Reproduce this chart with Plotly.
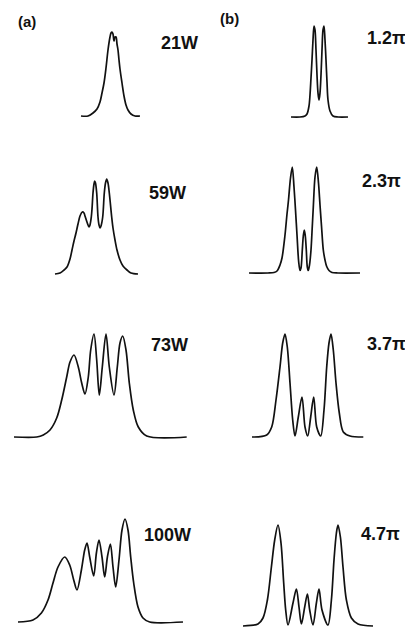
import plotly.graph_objects as go

W, H = 405, 629

# ---- data: relative frequency (a.u.) and spectral intensity (a.u.) ----
# column (a): pump power series
a1_x = [0, 7, 12, 16, 19, 21, 23, 25, 27, 29, 30, 31, 32, 33, 34, 35, 36, 37, 38, 39, 41, 43, 45, 47, 50, 54, 59]
a1_y = [0, 0, 3, 7, 14, 23, 33, 48, 66, 79, 83, 84, 82, 75, 79, 79, 72, 66, 56, 47, 33, 20, 11, 6, 2, 0, 0]

a2_x = [0, 5, 9, 12, 15, 17, 19, 21, 23, 25, 27.3, 29, 30, 32.3, 34, 35, 36.3, 37, 38, 39, 39.7, 40.5, 41.7, 43, 44,
        45, 46, 47.7, 49.3, 50.5, 51.7, 53, 54.3, 56.7, 58, 60, 62, 65, 68, 72, 76, 83]
a2_y = [0, 1, 4, 7, 15, 24, 33, 41, 50, 58, 62, 61, 58, 51, 47, 49, 57, 65, 81, 90, 93, 91, 81, 57, 49,
        46, 48, 57, 81, 91, 95, 91, 81, 57, 46, 34, 24, 14, 8, 4, 1, 0]

a3_x = [0, 22.7, 29.3, 36, 42.7, 47.7, 52.7, 56, 60, 64.3, 67.7, 71, 74.3, 76.7, 80, 82.7, 85.3, 88.3, 92, 95.3,
        100, 103.3, 106, 108.7, 112, 115.3, 119.3, 124.3, 132.7, 172.7]
a3_y = [0, 0, 2, 7, 19, 37, 60, 75, 82, 70, 54, 43, 60, 87, 103, 77, 42, 70, 103, 70,
        42, 70, 94, 101, 87, 54, 27, 10, 1, 0]

a4_x = [0, 15, 23.4, 30, 35, 40, 46.7, 51.7, 55.7, 59, 63.4, 66.7, 69, 71.7, 75.7, 78.4, 81, 84, 86.7, 89.4,
        92.4, 95, 97.7, 101, 104, 107, 110, 112.7, 115.7, 120, 125, 131.7, 165]
a4_y = [0, 2, 9, 22, 39, 55, 65, 57, 42, 32, 52, 72, 79, 65, 46, 69, 82, 65, 45, 65,
        78, 55, 35, 62, 92, 103, 92, 65, 39, 15, 4, 0, 0]

# column (b): nonlinear phase series
b1_x = [0, 9, 14, 16, 18, 19, 20, 21, 22, 23, 24, 25, 26, 27, 28, 29, 30, 31, 32, 33, 34, 35, 36, 37, 39, 42, 47, 57]
b1_y = [0, 0, 1, 3, 11, 22, 39, 57, 77, 91, 87, 67, 42, 24, 17, 24, 42, 67, 87, 91, 77, 57, 35, 17, 6, 1, 0, 0]

b2_x = [0, 19, 25, 28, 31, 33, 36, 38, 39.5, 41.5, 43.3, 45, 46.5, 48, 49.7, 51, 52, 53.3, 54.3, 55.3, 56.3,
        57.3, 58.3, 59.3, 60.5, 62, 63, 64.3, 66, 67.7, 69.5, 71, 72.5, 74.3, 76, 77.7, 80, 83, 89, 111]
b2_y = [0, 0, 0.5, 2, 8, 15, 38, 59, 73, 95, 106, 86, 63, 38, 11, 2.5, 5, 23, 37, 43, 37,
        23, 6, 2.5, 8, 23, 41, 66, 96, 106, 90, 68, 47, 23, 13, 6.5, 2.5, 0.5, 0, 0]

b3_x = [0, 14.7, 19.7, 24, 28, 30.7, 33, 35.3, 38, 40.7, 43, 46.3, 50, 53, 55.7, 58.7, 61.7, 64.7, 68.7, 72,
        74.7, 77, 79, 81.3, 84, 87.3, 91.3, 98, 111.3]
b3_y = [0, 2, 10, 37, 70, 94, 103, 90, 54, 17, 1, 20, 40, 10, 1, 20, 40, 10, 1, 27,
        70, 94, 103, 87, 54, 24, 5, 1, 0]

b4_x = [0, 15, 20, 24.4, 28.4, 31.7, 35, 38, 40.7, 42.7, 45, 50, 53.4, 56, 58.4, 61.7, 64.4, 66.7, 70, 73.4,
        76, 79, 85, 88.4, 91, 93.4, 95, 97.4, 100, 103.4, 108.4, 115, 130]
b4_y = [0, 2, 8, 26, 59, 86, 101, 83, 43, 16, 1, 23, 37, 19, 2, 19, 32, 16, 1, 23,
        37, 16, 1, 26, 66, 93, 101, 89, 59, 26, 8, 2, 0]

labels_a = ["21W", "59W", "73W", "100W"]
labels_b = ["1.2π", "2.3π", "3.7π", "4.7π"]
panel_tags = ["(a)", "(b)"]

# ---- layout (pixel boxes of each small panel: left edge, baseline) ----
boxes = [
    (a1_x, a1_y, 81, 116), (a2_x, a2_y, 55, 274), (a3_x, a3_y, 14, 437), (a4_x, a4_y, 18, 622),
    (b1_x, b1_y, 291, 117), (b2_x, b2_y, 249, 273), (b3_x, b3_y, 252, 437), (b4_x, b4_y, 243, 626),
]

fig = go.Figure()
PADX, PADY, SPAN = 3, 3, 110
for i, (xs, ys, left, base) in enumerate(boxes):
    n = i + 1
    sfx = "" if n == 1 else str(n)
    width = max(xs)
    fig.add_trace(go.Scatter(
        x=xs, y=ys, mode="lines",
        line=dict(color="#111111", width=1.7, shape="spline", smoothing=0.9),
        xaxis="x" + sfx, yaxis="y" + sfx, showlegend=False, hoverinfo="skip"))
    fig.layout["xaxis" + sfx] = dict(
        domain=[(left - PADX) / W, (left + width + PADX) / W],
        range=[-PADX, width + PADX], visible=False, fixedrange=True)
    fig.layout["yaxis" + sfx] = dict(
        domain=[1 - (base + PADY) / H, 1 - (base - SPAN + PADY) / H],
        range=[-PADY, SPAN - PADY], visible=False, fixedrange=True)

font_lbl = dict(family="Liberation Sans, Arial, sans-serif", size=18, color="#111111")
ann = []
pos_a = [(159, 43), (147, 192.5), (149, 344.5), (142, 534.5)]
pos_b = [(365, 38.5), (360, 181), (365, 344), (359, 534)]
for t, (x, y) in zip(labels_a, pos_a):
    ann.append(dict(text="<b>%s</b>" % t, x=x / W, y=1 - y / H, xref="paper", yref="paper",
                    xanchor="left", yanchor="middle", showarrow=False, font=font_lbl))
for t, (x, y) in zip(labels_b, pos_b):
    ann.append(dict(text="<b>%s</b>" % t, x=x / W, y=1 - y / H, xref="paper", yref="paper",
                    xanchor="left", yanchor="middle", showarrow=False, font=font_lbl))
for t, (x, y) in zip(panel_tags, [(16, 21.5), (218, 19)]):
    ann.append(dict(text="<b>%s</b>" % t, x=x / W, y=1 - y / H, xref="paper", yref="paper",
                    xanchor="left", yanchor="middle", showarrow=False,
                    font=dict(family="Liberation Sans, Arial, sans-serif", size=15, color="#111111")))

fig.update_layout(width=W, height=H, margin=dict(l=0, r=0, t=0, b=0),
                  paper_bgcolor="white", plot_bgcolor="white", annotations=ann)

fig.write_html("out.html", config={"displayModeBar": False},
               post_script="document.body.style.margin='0';document.body.style.padding='0';"
                           "document.body.style.overflow='hidden';")
